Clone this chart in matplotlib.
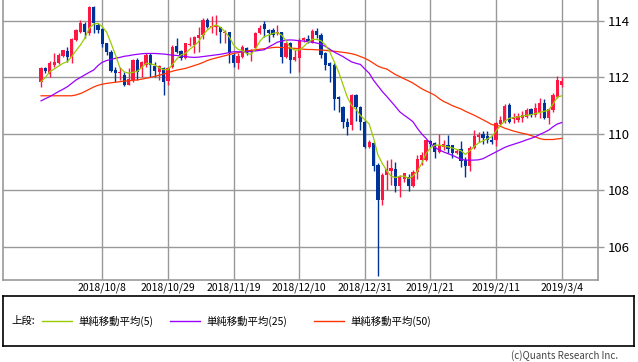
import numpy as np
import pandas as pd
import matplotlib
matplotlib.use('Agg')
import matplotlib.pyplot as plt

plt.rcParams['font.family'] = ['Noto Sans CJK JP', 'DejaVu Sans']

# daily candles, 2018/9/18 - 2019/3/4
dates = pd.bdate_range('2018-09-18', '2019-03-04')

opens = [111.85, 112.32, 112.12, 112.44, 112.50, 112.76, 112.94, 112.71, 113.33, 113.62,
         113.90, 113.56, 114.51, 113.86, 113.70, 113.21, 112.91, 112.28, 112.15, 112.09,
         111.73, 111.91, 112.62, 112.32, 112.44, 112.79, 112.40, 112.20, 112.32, 111.88,
         112.38, 113.12, 112.94, 112.68, 113.15, 113.15, 113.39, 113.50, 114.04, 113.80,
         113.78, 113.80, 113.58, 113.60, 112.79, 112.52, 112.74, 113.03, 112.90, 113.03,
         113.56, 113.90, 113.68, 113.68, 113.56, 113.62, 112.74, 113.21, 112.62, 112.68,
         113.33, 113.36, 113.23, 113.66, 113.50, 112.85, 112.50, 112.45, 111.30, 110.96,
         110.43, 110.30, 111.36, 110.96, 110.43, 109.54, 109.66, 108.89, 107.65, 108.54,
         108.68, 108.76, 108.15, 108.39, 108.48, 108.15, 108.66, 109.07, 109.07, 109.74,
         109.68, 109.37, 109.52, 109.60, 109.60, 109.31, 109.45, 109.07, 108.87, 109.50,
         109.88, 109.98, 109.92, 109.80, 109.78, 110.35, 110.43, 111.02, 110.51, 110.49,
         110.55, 110.61, 110.87, 110.67, 110.73, 111.08, 110.55, 110.84, 111.32, 111.73]
highs = [112.38, 112.36, 112.60, 112.88, 112.85, 112.98, 113.09, 113.39, 113.72, 114.04,
         113.98, 114.55, 114.53, 113.92, 113.74, 113.23, 112.97, 112.38, 112.38, 112.20,
         112.32, 112.65, 112.68, 112.60, 112.85, 112.85, 112.56, 112.44, 112.38, 112.38,
         113.15, 113.39, 112.97, 113.23, 113.44, 113.47, 113.80, 114.10, 114.10, 114.18,
         114.21, 113.80, 113.68, 113.62, 112.85, 112.85, 113.15, 113.07, 113.02, 113.62,
         113.86, 114.01, 113.70, 113.74, 113.86, 113.62, 113.27, 113.27, 112.97, 113.39,
         113.44, 113.50, 113.71, 113.74, 113.56, 112.90, 112.55, 112.50, 111.35, 110.99,
         110.55, 111.40, 111.40, 111.00, 110.49, 109.78, 109.72, 108.95, 108.60, 109.07,
         109.10, 109.00, 108.54, 108.62, 108.57, 108.72, 109.25, 109.37, 109.80, 109.78,
         109.70, 109.99, 109.78, 109.96, 109.62, 109.45, 109.75, 109.19, 109.57, 110.15,
         110.05, 110.11, 110.11, 109.96, 110.41, 110.63, 111.06, 111.10, 110.73, 110.73,
         110.82, 110.90, 110.90, 111.08, 111.26, 111.22, 110.90, 111.44, 112.05, 112.03]
lows = [111.65, 112.15, 112.00, 112.38, 112.47, 112.74, 112.56, 112.50, 113.30, 113.56,
        113.39, 113.50, 113.56, 113.56, 113.09, 112.79, 112.20, 111.85, 111.90, 111.70,
        111.73, 111.85, 111.91, 112.03, 112.38, 112.03, 112.03, 111.91, 111.38, 111.73,
        112.32, 112.85, 112.62, 112.64, 113.10, 112.85, 112.91, 113.38, 113.74, 113.56,
        113.50, 113.21, 113.21, 112.50, 112.38, 112.29, 112.68, 112.79, 112.60, 113.00,
        113.53, 113.44, 113.27, 113.44, 113.50, 112.50, 112.68, 112.17, 112.60, 112.20,
        113.27, 113.23, 113.21, 113.40, 112.68, 112.26, 111.85, 110.85, 110.78, 110.20,
        109.96, 110.14, 110.45, 110.15, 109.50, 109.50, 108.70, 104.96, 107.47, 108.00,
        108.20, 107.95, 107.77, 108.30, 107.98, 108.12, 108.39, 108.89, 109.05, 109.54,
        109.13, 109.31, 109.43, 109.31, 109.13, 109.28, 108.82, 108.48, 108.70, 109.45,
        109.72, 109.63, 109.68, 109.64, 109.57, 110.31, 110.39, 110.39, 110.37, 110.43,
        110.43, 110.55, 110.61, 110.61, 110.58, 110.51, 110.34, 110.78, 111.26, 111.67]
closes = [112.32, 112.22, 112.50, 112.56, 112.79, 112.97, 112.71, 113.35, 113.68, 113.92,
          113.62, 114.51, 113.92, 113.68, 113.17, 112.91, 112.24, 112.15, 112.20, 111.73,
          111.94, 112.62, 112.20, 112.56, 112.79, 112.44, 112.24, 112.40, 111.85, 112.32,
          113.09, 112.91, 112.68, 113.21, 113.20, 113.44, 113.50, 114.04, 113.80, 113.84,
          113.84, 113.60, 113.62, 112.85, 112.52, 112.77, 113.09, 112.88, 112.99, 113.59,
          113.74, 113.72, 113.56, 113.50, 113.62, 112.74, 113.21, 112.62, 112.74, 113.33,
          113.39, 113.27, 113.66, 113.50, 112.79, 112.44, 112.40, 111.25, 111.22, 110.43,
          110.25, 111.36, 110.96, 110.43, 109.54, 109.72, 108.86, 107.65, 108.54, 108.74,
          108.78, 108.15, 108.48, 108.60, 108.15, 108.66, 109.10, 109.25, 109.78, 109.64,
          109.37, 109.60, 109.64, 109.48, 109.33, 109.40, 109.04, 108.87, 109.50, 109.91,
          109.97, 109.86, 109.79, 109.72, 110.37, 110.49, 110.98, 110.43, 110.57, 110.63,
          110.67, 110.84, 110.67, 110.90, 111.08, 110.55, 110.87, 111.38, 111.91, 111.88]

ma5 = [111.85, 112.00, 112.20, 112.30, 112.40, 112.50, 112.56, 112.74, 112.95, 113.15,
       113.39, 113.74, 113.89, 113.92, 113.80, 113.60, 113.21, 112.80, 112.35, 112.20,
       112.15, 112.18, 112.22, 112.35, 112.50, 112.48, 112.44, 112.34, 112.28, 112.27,
       112.45, 112.65, 112.80, 112.85, 113.00, 113.12, 113.27, 113.50, 113.68, 113.80,
       113.86, 113.78, 113.62, 113.44, 113.15, 113.00, 112.95, 112.85, 112.82, 113.00,
       113.28, 113.45, 113.50, 113.56, 113.59, 113.50, 113.30, 113.05, 112.97, 112.97,
       113.09, 113.25, 113.35, 113.35, 113.30, 113.15, 112.90, 112.56, 112.20, 111.75,
       111.30, 111.00, 110.87, 110.65, 110.50, 110.35, 109.85, 109.25, 108.95, 108.70,
       108.50, 108.45, 108.50, 108.50, 108.42, 108.50, 108.68, 108.95, 109.30, 109.50,
       109.60, 109.60, 109.57, 109.54, 109.50, 109.45, 109.40, 109.27, 109.40, 109.55,
       109.68, 109.75, 109.82, 109.90, 110.10, 110.30, 110.45, 110.55, 110.58, 110.60,
       110.63, 110.66, 110.68, 110.72, 110.76, 110.80, 110.84, 111.05, 111.30, 111.35]
ma25 = [111.17, 111.25, 111.32, 111.41, 111.50, 111.58, 111.67, 111.79, 111.91, 112.00,
        112.09, 112.18, 112.26, 112.42, 112.54, 112.60, 112.64, 112.68, 112.71, 112.75,
        112.77, 112.80, 112.82, 112.84, 112.85, 112.85, 112.85, 112.84, 112.83, 112.81,
        112.79, 112.78, 112.76, 112.74, 112.72, 112.71, 112.72, 112.74, 112.76, 112.78,
        112.80, 112.82, 112.85, 112.88, 112.91, 112.91, 112.91, 112.91, 112.92, 112.94,
        112.96, 112.98, 113.08, 113.16, 113.25, 113.29, 113.32, 113.33, 113.32, 113.30,
        113.29, 113.27, 113.25, 113.22, 113.18, 113.10, 113.00, 112.90, 112.82, 112.74,
        112.64, 112.55, 112.50, 112.46, 112.30, 112.15, 111.90, 111.70, 111.50, 111.33,
        111.15, 110.97, 110.78, 110.66, 110.55, 110.43, 110.20, 110.00, 109.84, 109.66,
        109.52, 109.43, 109.36, 109.30, 109.24, 109.17, 109.10, 109.07, 109.07, 109.07,
        109.08, 109.12, 109.20, 109.28, 109.36, 109.44, 109.52, 109.58, 109.63, 109.68,
        109.73, 109.79, 109.84, 109.90, 109.98, 110.05, 110.13, 110.25, 110.35, 110.40]
ma50 = [111.35, 111.35, 111.35, 111.35, 111.35, 111.35, 111.35, 111.35, 111.38, 111.43,
        111.50, 111.58, 111.66, 111.72, 111.76, 111.79, 111.81, 111.83, 111.85, 111.87,
        111.88, 111.90, 111.91, 111.94, 111.97, 112.00, 112.04, 112.08, 112.12, 112.17,
        112.22, 112.26, 112.29, 112.32, 112.37, 112.42, 112.47, 112.53, 112.60, 112.65,
        112.69, 112.73, 112.77, 112.81, 112.85, 112.88, 112.91, 112.94, 112.96, 112.98,
        113.00, 113.02, 113.04, 113.06, 113.07, 113.06, 113.05, 113.04, 113.03, 113.02,
        113.00, 112.99, 112.99, 112.98, 112.97, 112.96, 112.94, 112.93, 112.91, 112.89,
        112.87, 112.84, 112.80, 112.74, 112.68, 112.60, 112.50, 112.40, 112.34, 112.30,
        112.20, 112.10, 112.03, 111.95, 111.88, 111.80, 111.70, 111.60, 111.52, 111.45,
        111.37, 111.25, 111.15, 111.08, 111.00, 110.94, 110.88, 110.80, 110.73, 110.66,
        110.58, 110.50, 110.42, 110.33, 110.30, 110.27, 110.20, 110.15, 110.10, 110.06,
        110.02, 109.99, 109.94, 109.89, 109.83, 109.80, 109.80, 109.80, 109.82, 109.84]

tick_dates = ['2018-10-08', '2018-10-29', '2018-11-19', '2018-12-10',
              '2018-12-31', '2019-01-21', '2019-02-11', '2019-03-04']
ma_labels = ['単純移動平均(5)', '単純移動平均(25)', '単純移動平均(50)']
ma_colors = ['#99cc00', '#9900ff', '#ff3300']

UP = '#ff1744'
DOWN = '#003399'
GRID = '#999999'

fig = plt.figure(figsize=(6.38, 3.62), dpi=100)
ax = fig.add_axes([3 / 638, 1 - 280 / 362, 595 / 638, 280 / 362])

x = np.arange(len(dates))
o = np.array(opens)
c = np.array(closes)
up = c >= o
cols = np.where(up, UP, DOWN)

# candles
ax.vlines(x, lows, highs, colors=cols, linewidth=1.0, zorder=3)
body_lo = np.minimum(o, c)
body_h = np.maximum(np.abs(c - o), 0.03)
ax.bar(x, body_h, bottom=body_lo, width=0.72, color=cols, linewidth=0, zorder=4)

# moving averages
for vals, col in zip([ma50, ma25, ma5], ma_colors[::-1]):
    ax.plot(x, vals, color=col, linewidth=0.9, zorder=5)

tick_pos = [dates.get_loc(pd.Timestamp(d)) for d in tick_dates]
tick_lab = [f'{pd.Timestamp(d).year}/{pd.Timestamp(d).month}/{pd.Timestamp(d).day}' for d in tick_dates]
ax.set_xticks(tick_pos)
ax.set_xticklabels(tick_lab, fontsize=7.5)
ax.set_yticks([106, 108, 110, 112, 114])

ax.set_xlim(-8.7, 127.3)
ax.set_ylim(104.82, 114.745)

ax.grid(True, color=GRID, linewidth=1.0, zorder=0)
ax.set_axisbelow(True)
ax.yaxis.tick_right()
ax.tick_params(axis='y', direction='out', length=4, width=1, color=GRID,
               labelsize=9.5, pad=3)
ax.tick_params(axis='x', length=0, pad=2)
for s in ['left', 'right', 'bottom']:
    ax.spines[s].set_color(GRID)
    ax.spines[s].set_linewidth(1.2)
ax.spines['top'].set_visible(False)

# legend box
lg = fig.add_axes([3 / 638, 1 - 346 / 362, 631 / 638, 50 / 362])
lg.set_xlim(0, 631)
lg.set_ylim(50, 0)
lg.set_xticks([])
lg.set_yticks([])
for s in lg.spines.values():
    s.set_color('black')
    s.set_linewidth(1.2)
lg.text(8, 25, '上段:', fontsize=7.5, va='center', ha='left')
for x0, lab, col in zip([39, 167, 311], ma_labels, ma_colors):
    lg.plot([x0, x0 + 30], [25, 25], color=col, linewidth=1.0)
    lg.text(x0 + 36, 25, lab, fontsize=7.5, va='center', ha='left')

fig.text(618 / 638, 1 - 356 / 362, '(c)Quants Research Inc.', fontsize=7,
         ha='right', va='center', color='#444444')

fig.savefig('out.png', dpi=100)
